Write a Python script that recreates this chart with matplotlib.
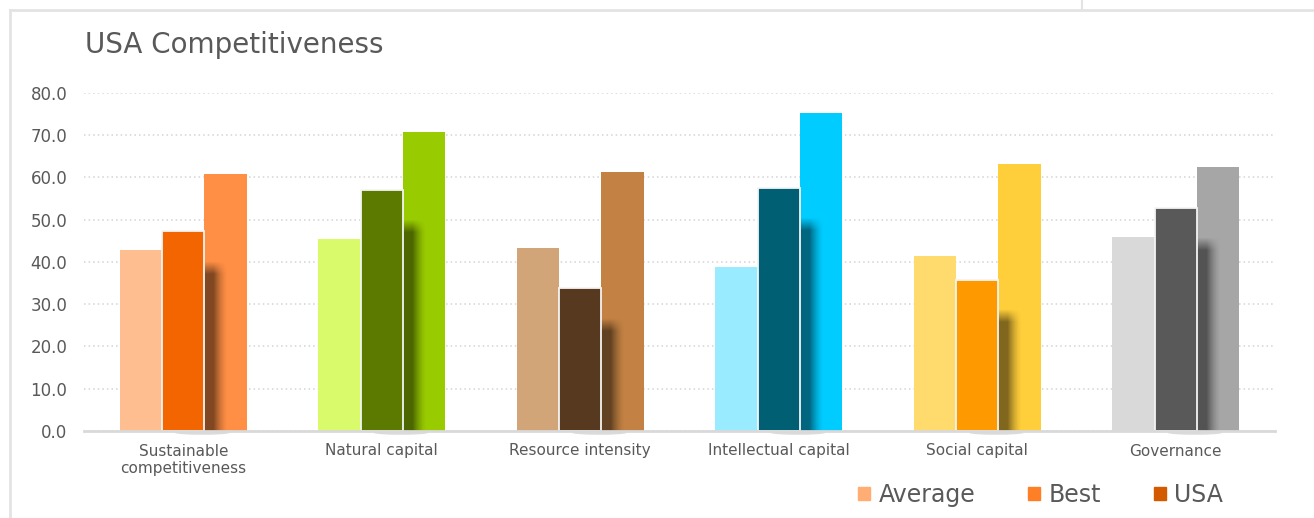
import numpy as np
import matplotlib
matplotlib.use('Agg')
from matplotlib import pyplot as plt
from matplotlib.patches import Patch, Ellipse
from matplotlib.lines import Line2D

# Indicadores y valores por grupo
categorias = ['Sustainable\ncompetitiveness', 'Natural capital', 'Resource intensity',
              'Intellectual capital', 'Social capital', 'Governance']
average = [42.9, 45.3, 43.2, 38.9, 41.5, 45.8]
usa = [47.2, 56.9, 33.7, 57.5, 35.8, 52.7]
best = [60.8, 70.8, 61.3, 75.2, 63.2, 62.5]
yticks = [0, 10, 20, 30, 40, 50, 60, 70, 80]

# Colores de cada grupo (claro / oscuro / medio)
col_average = ['#FFBE8F', '#D9FA6B', '#D1A577', '#99EBFF', '#FFDA6D', '#D9D9D9']
col_usa = ['#F26500', '#5C7A00', '#56391F', '#005F73', '#FF9900', '#595959']
col_best = ['#FF8F45', '#99CC00', '#C38244', '#00CCFF', '#FFCE3B', '#A6A6A6']

gris = '#595959'
plt.rcParams['font.family'] = ['DejaVu Sans']

fig = plt.figure(figsize=(13.14, 5.18), dpi=100)
ax = fig.add_axes([84 / 1314, 1 - 431 / 518, (1275 - 84) / 1314, (431 - 92.7) / 518])

x = np.arange(len(categorias))
w = 0.214

for i in x:
    ax.bar(i - w, average[i], w, color=col_average[i], zorder=2)
    ax.bar(i + w, best[i], w, color=col_best[i], zorder=2)
    ax.bar(i, usa[i], w, color=col_usa[i], edgecolor='#F4F4F4', linewidth=1.3, zorder=4)

    # sombra de la barra USA sobre la barra Best
    alto = usa[i] - 8.5
    nx, ny = 40, 200
    xs = np.linspace(0, 1, nx)
    ys = np.linspace(0, alto + 1.5, ny)
    ax_h = np.clip(1 - (xs - 0.4) / 0.6, 0, 1) ** 1.5
    ax_v = np.clip((alto + 1.5 - ys) / 3.0, 0, 1)
    alpha = 0.5 * np.outer(ax_v, ax_h)
    img = np.zeros((ny, nx, 4))
    img[..., 3] = alpha
    x0 = i + w / 2
    ax.imshow(img, extent=(x0, x0 + 0.55 * w, 0, alto + 1.5), origin='lower',
              aspect='auto', interpolation='bilinear', zorder=3)

    # sombra bajo la base
    ax.add_patch(Ellipse((i + 0.45 * w, -0.4), 1.3 * w, 1.0, color='#9A9A9A',
                         alpha=0.35, lw=0, clip_on=False, zorder=1))

ax.set_xlim(-0.5, len(categorias) - 0.5)
ax.set_ylim(0, 80)
ax.set_yticks(yticks)
ax.set_yticklabels([f'{v:.1f}' for v in yticks])
ax.set_xticks(x)
ax.set_xticklabels(categorias, linespacing=1.25)
ax.tick_params(axis='y', length=0, pad=12, labelsize=12, labelcolor=gris)
ax.tick_params(axis='x', length=0, pad=9, labelsize=11, labelcolor=gris)

ax.grid(axis='y', linestyle=(0, (1, 2)), color='#D4D4D4', linewidth=1.1, zorder=0)
ax.set_axisbelow(True)
for s in ['top', 'right', 'left']:
    ax.spines[s].set_visible(False)
ax.spines['bottom'].set_color('#D9D9D9')
ax.spines['bottom'].set_linewidth(2)
ax.spines['bottom'].set_zorder(5)

fig.text(85 / 1314, 1 - 45 / 518, 'USA Competitiveness', fontsize=20, color=gris, va='center')

# leyenda
handles = [Patch(color='#FFAD73'), Patch(color='#FF7F27'), Patch(color='#D45A00')]
fig.legend(handles, ['Average', 'Best', 'USA'], loc='center left',
           bbox_to_anchor=(849 / 1314, 1 - 495 / 518), ncol=3, frameon=False,
           fontsize=17, labelcolor=gris, handlelength=0.5, handleheight=0.5,
           handletextpad=0.35, columnspacing=2.25, borderaxespad=0)

# marco del gráfico
borde = '#E3E3E3'
fig.add_artist(Line2D([10 / 1314, 10 / 1314], [0, 1 - 10 / 518], color=borde, lw=2))
fig.add_artist(Line2D([10 / 1314, 1], [1 - 10 / 518, 1 - 10 / 518], color=borde, lw=2))
fig.add_artist(Line2D([1082 / 1314, 1082 / 1314], [1 - 10 / 518, 1], color=borde, lw=1.5))

fig.savefig('out.png', dpi=100, facecolor='white')
